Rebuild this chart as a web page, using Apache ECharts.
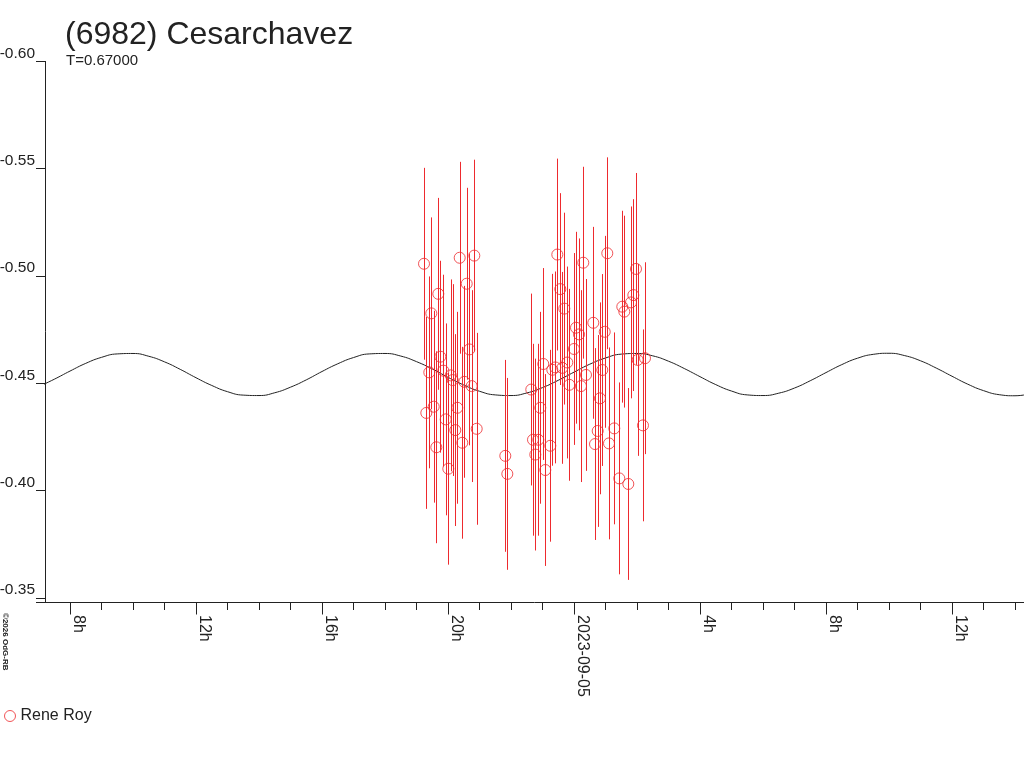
<!DOCTYPE html>
<html>
<head>
<meta charset="utf-8">
<script src="https://cdn.jsdelivr.net/npm/echarts@6/dist/echarts.min.js"></script>
<style>
html,body{margin:0;padding:0;background:#fff;}
#chart{width:1024px;height:768px;}
</style>
</head>
<body>
<div id="chart"></div>
<script>
// Observations: hours since 2023-09-04 00:00 and magnitudes
const OBS_HOURS = [19.238,19.311,19.406,19.470,19.546,19.629,19.692,19.756,19.851,19.927,20.010,20.086,20.149,20.232,20.295,20.371,20.454,20.517,20.594,20.676,20.752,20.835,20.911,
21.819,21.883,22.644,22.698,22.771,22.867,22.930,23.025,23.089,23.248,23.311,23.406,23.470,23.565,23.629,23.692,23.787,23.851,
24.000,24.063,24.159,24.222,24.295,24.381,24.613,24.667,24.752,24.825,24.898,24.975,25.057,25.111,25.279,25.438,25.533,25.597,25.724,25.810,25.883,25.968,26.022,26.190,26.254];
const OBS_MAGS = [-0.5057,-0.4362,-0.4551,-0.4826,-0.4391,-0.4202,-0.4917,-0.4624,-0.4559,-0.4332,-0.4102,-0.4537,-0.4515,-0.4282,-0.4386,-0.5085,-0.4223,-0.4507,-0.4964,-0.4658,-0.4487,-0.5095,-0.4288,
-0.4162,-0.4078,-0.4471,-0.4237,-0.4168,-0.4237,-0.4386,-0.4590,-0.4096,-0.4209,-0.4563,-0.4574,-0.5100,-0.4939,-0.4572,-0.4848,-0.4597,-0.4493,
-0.4660,-0.4759,-0.4728,-0.4487,-0.5062,-0.4539,-0.4782,-0.4217,-0.4278,-0.4430,-0.4562,-0.4740,-0.5106,-0.4220,-0.4290,-0.4057,-0.4857,-0.4834,-0.4031,-0.4877,-0.4911,-0.5033,-0.4609,-0.4304,-0.4617];
const OBS_ERR = 0.0447;

// Model curve (hours since 2023-09-04 00:00, magnitude)
const MODEL_HOURS = [7,7.5,8,8.5,9,9.5,10,10.5,11,11.5,12,12.5,13,13.5,14,14.5,15,15.5,16,16.5,17,17.5,18,18.5,19,19.5,20,20.5,21,21.5,22,22.5,
  23,23.5,24,24.5,25,25.5,26,26.5,27,27.5,28,28.5,29,29.5,30,30.5,31,31.5,32,32.5,33,33.5,34,34.5,35,35.5,36,36.5,37,37.5,38,38.5];
const MODEL_MAGS = [-0.4484,-0.4519,-0.4557,-0.4593,-0.4621,-0.4637,-0.4639,-0.4626,-0.4600,-0.4565,-0.4526,-0.4490,-0.4461,-0.4445,-0.4443,-0.4456,
  -0.4482,-0.4516,-0.4555,-0.4591,-0.4620,-0.4637,-0.4639,-0.4627,-0.4601,-0.4567,-0.4528,-0.4492,-0.4463,-0.4446,-0.4443,-0.4455,
  -0.4480,-0.4514,-0.4552,-0.4589,-0.4618,-0.4636,-0.4639,-0.4628,-0.4603,-0.4569,-0.4531,-0.4494,-0.4464,-0.4446,-0.4443,-0.4454,
  -0.4478,-0.4512,-0.4550,-0.4587,-0.4617,-0.4635,-0.4640,-0.4629,-0.4605,-0.4571,-0.4533,-0.4496,-0.4466,-0.4447,-0.4442,-0.4452];

// Axis ticks
const TICK_HOURS = [8,12,16,20,24,28,32,36];
const TICK_LABELS = ['8h','12h','16h','20h','2023-09-05','4h','8h','12h'];
const MINOR_TICK_HOURS = [8,9,10,11,12,13,14,15,16,17,18,19,20,21,22,23,24,25,26,27,28,29,30,31,32,33,34,35,36,37,38];

const X_MIN = 7.206, X_MAX = 38.286;
const RED = '#ee2a2e';
const INK = '#222';
const FONT = '"Liberation Sans", Arial, sans-serif';

const obsData = OBS_HOURS.map((h, i) => [h, OBS_MAGS[i]]);
const modelData = MODEL_HOURS.map((h, i) => [h, MODEL_MAGS[i]]);

const chart = echarts.init(document.getElementById('chart'), null, {renderer: 'canvas'});
chart.setOption({
  backgroundColor: '#fff',
  animation: false,
  title: [
    {text: '(6982) Cesarchavez', left: 60, top: 14,
     textStyle: {fontSize: 32, fontWeight: 'normal', color: INK, fontFamily: FONT}},
    {text: 'T=0.67000', left: 61, top: 48,
     textStyle: {fontSize: 15, fontWeight: 'normal', color: INK, fontFamily: FONT}}
  ],
  legend: {
    data: ['Rene Roy'], left: -1, top: 703, itemWidth: 11, itemHeight: 11, itemGap: 6,
    itemStyle: {borderWidth: 1},
    textStyle: {fontSize: 16, color: INK, fontFamily: FONT}
  },
  grid: {left: 45, right: 0, top: 61.4, bottom: 166, containLabel: false, outerBoundsMode: 'none'},
  xAxis: [
    {type: 'value', min: X_MIN, max: X_MAX, position: 'bottom',
     axisLine: {show: true, onZero: false, lineStyle: {color: INK, width: 1}},
     axisTick: {show: true, length: 8, customValues: MINOR_TICK_HOURS, lineStyle: {color: INK}},
     axisLabel: {show: false}, splitLine: {show: false}},
    {type: 'value', min: X_MIN, max: X_MAX, position: 'bottom',
     axisLine: {show: false, onZero: false},
     axisTick: {show: true, length: 12.5, customValues: TICK_HOURS, lineStyle: {color: INK}},
     axisLabel: {show: true, customValues: TICK_HOURS, rotate: -90, margin: 13,
       verticalAlign: 'bottom', align: 'left',
       fontSize: 16, color: INK, fontFamily: FONT,
       formatter: v => { const i = TICK_HOURS.indexOf(Math.round(v)); return i >= 0 ? TICK_LABELS[i] : ''; }},
     splitLine: {show: false}}
  ],
  yAxis: {
    type: 'value', inverse: true, min: -0.60, max: -0.3481, interval: 0.05,
    axisLine: {show: true, onZero: false, lineStyle: {color: INK, width: 1}},
    axisTick: {show: true, length: 9, lineStyle: {color: INK}},
    axisLabel: {margin: 10, fontSize: 15.5, color: INK, fontFamily: FONT, verticalAlign: 'bottom',
      formatter: v => (Math.abs(Math.round(v * 20) - v * 20) < 1e-6 ? v.toFixed(2) : '')},
    splitLine: {show: false}
  },
  series: [
    {type: 'line', name: 'model', data: modelData, smooth: true, showSymbol: false,
     lineStyle: {color: INK, width: 1}, z: 1, silent: true},
    {type: 'custom', name: 'errors', data: obsData, z: 2, silent: true,
     renderItem: (params, api) => {
       const h = api.value(0), m = api.value(1);
       const p1 = api.coord([h, m - OBS_ERR]);
       const p2 = api.coord([h, m + OBS_ERR]);
       return {type: 'line', shape: {x1: Math.round(p1[0]) + 0.5, y1: p1[1], x2: Math.round(p2[0]) + 0.5, y2: p2[1]},
               style: {stroke: RED, lineWidth: 1}};
     }},
    {type: 'scatter', name: 'Rene Roy', data: obsData, symbol: 'circle', symbolSize: 11, z: 3,
     itemStyle: {color: 'rgba(255,255,255,0)', borderColor: RED, borderWidth: 1}}
  ],
  graphic: [
    {type: 'text', x: 1, y: 613, rotation: -Math.PI / 2,
     style: {text: '©2026 OdG-RB', fontSize: 8, fontWeight: 'bold', fill: '#222', fontFamily: FONT,
             textAlign: 'left', textVerticalAlign: 'bottom'}}
  ]
});
</script>
</body>
</html>
